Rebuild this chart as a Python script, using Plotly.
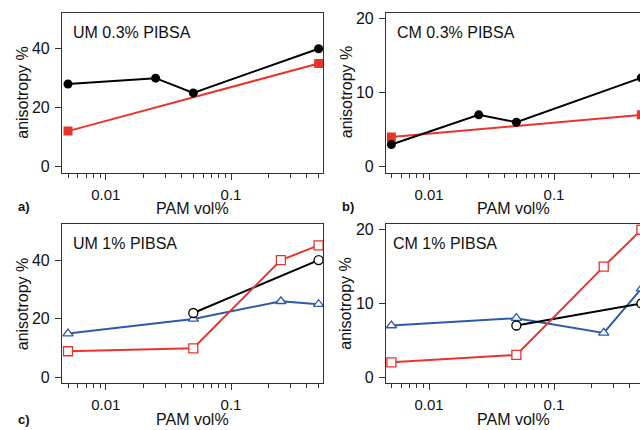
import plotly.graph_objects as go

# ---- data ----
pam_03 = [0.005, 0.025, 0.05, 0.5]
pam_03_red = [0.005, 0.5]
um03_black = [28, 30, 25, 40]
um03_red = [12, 35]
cm03_black = [3, 7, 6, 12]
cm03_red = [4, 7]

pam_1 = [0.005, 0.05, 0.25, 0.5]
pam_1_black = [0.05, 0.5]
um1_blue = [15, 20, 26, 25]
um1_red = [9, 10, 40, 45]
um1_black = [22, 40]
cm1_blue = [7, 8, 6, 12]
cm1_red = [2, 3, 15, 20]
cm1_black = [7, 10]

panel_titles = ["UM 0.3% PIBSA", "CM 0.3% PIBSA", "UM 1% PIBSA", "CM 1% PIBSA"]
panel_labels = ["a)", "b)", "c)"]
major_x = [0.01, 0.1]
major_x_text = ["0.01", "0.1"]
minor_x = [0.005, 0.006, 0.007, 0.008, 0.009,
           0.02, 0.03, 0.04, 0.05, 0.06, 0.07, 0.08, 0.09,
           0.2, 0.3, 0.4, 0.5]

RED = "#e8352b"
BLUE = "#2e5aaa"
BLACK = "#000000"
W, H = 640, 430
FONT = "Liberation Sans, Arial, sans-serif"

fig = go.Figure()

def px(x):
    return x / W

def py(y):
    return 1 - y / H

# domains (pixel geometry)
dom = {
    1: dict(x=[px(62), px(323)], y=[py(172), py(10)]),
    2: dict(x=[px(386), 1.0], y=[py(172), py(10)]),
    3: dict(x=[px(62), px(323)], y=[py(385.7), py(224.3)]),
    4: dict(x=[px(386), 1.0], y=[py(385.7), py(224.3)]),
}
xr = {1: [-2.349, -0.266], 2: [-2.344, -0.312], 3: [-2.349, -0.266], 4: [-2.344, -0.312]}
yr = {1: [-2.1, 52.2], 2: [-0.8, 20.76], 3: [-1.9, 52.2], 4: [-0.85, 20.76]}
ydt = {1: 20, 2: 10, 3: 20, 4: 10}


def add(i, x, y, color, symbol, filled, size):
    ax = "" if i == 1 else str(i)
    fig.add_trace(go.Scatter(
        x=x, y=y, mode="lines+markers",
        line=dict(color=color, width=2),
        marker=dict(symbol=symbol, size=size,
                    color=color if filled else "white",
                    line=dict(color=color, width=0 if filled else 1.3)),
        xaxis="x" + ax, yaxis="y" + ax, showlegend=False,
        cliponaxis=True))

# panel a
add(1, pam_03_red, um03_red, RED, "square", True, 9)
add(1, pam_03, um03_black, BLACK, "circle", True, 9)
# panel b
add(2, pam_03_red, cm03_red, RED, "square", True, 9)
add(2, pam_03, cm03_black, BLACK, "circle", True, 9)
# panel c
add(3, pam_1, um1_blue, BLUE, "triangle-up", False, 9)
add(3, pam_1_black, um1_black, BLACK, "circle", False, 9)
add(3, pam_1, um1_red, RED, "square", False, 9)
# panel d
add(4, pam_1, cm1_blue, BLUE, "triangle-up", False, 9)
add(4, pam_1_black, cm1_black, BLACK, "circle", False, 9)
add(4, pam_1, cm1_red, RED, "square", False, 9)

layout = dict(
    width=W, height=H,
    margin=dict(l=0, r=0, t=0, b=0, pad=0),
    paper_bgcolor="white", plot_bgcolor="white",
    font=dict(family=FONT, size=16, color="#111"),
    showlegend=False,
)
for i in range(1, 5):
    ax = "" if i == 1 else str(i)
    layout["xaxis" + ax] = dict(
        type="log", domain=dom[i]["x"], range=xr[i],
        anchor="y" + ax,
        tickmode="array", tickvals=major_x, ticktext=major_x_text,
        ticks="outside", ticklen=6, tickwidth=1, tickcolor="#333",
        minor=dict(tickmode="array", tickvals=minor_x, ticks="outside",
                   ticklen=4, tickwidth=1, tickcolor="#333", showgrid=False),
        showline=True, linecolor="#333", linewidth=1.2, mirror=True,
        showgrid=False, zeroline=False,
        tickfont=dict(size=15, family=FONT, color="#111"),
        ticklabelstandoff=2,
    )
    layout["yaxis" + ax] = dict(
        domain=dom[i]["y"], range=yr[i], anchor="x" + ax,
        tickmode="linear", tick0=0, dtick=ydt[i],
        ticks="outside", ticklen=6, tickwidth=1, tickcolor="#333",
        showline=True, linecolor="#333", linewidth=1.2,
        mirror=(i in (1, 3)),
        showgrid=False, zeroline=False,
        tickfont=dict(size=16, family=FONT, color="#111"),
        ticklabelstandoff=2,
    )
fig.update_layout(**layout)

ann = []
title_pos = [(71, 30), (395, 30), (71, 244), (391, 244)]
for t, (x, y) in zip(panel_titles, title_pos):
    ann.append(dict(text=t, x=px(x), y=py(y), xref="paper", yref="paper",
                    xanchor="left", yanchor="middle", showarrow=False,
                    font=dict(size=16, family=FONT, color="#111")))
# axis titles
for (cx, cy) in [(192.5, 208), (513, 208), (192.5, 422), (513, 422)]:
    ann.append(dict(text="PAM vol%", x=px(cx), y=py(cy), xref="paper", yref="paper",
                    xanchor="center", yanchor="middle", showarrow=False,
                    font=dict(size=16, family=FONT, color="#111")))
for (cx, cy) in [(22.5, 90.5), (346, 90.5), (22.5, 305), (346, 305)]:
    ann.append(dict(text="anisotropy %", x=px(cx), y=py(cy), xref="paper", yref="paper",
                    xanchor="center", yanchor="middle", showarrow=False, textangle=-90,
                    font=dict(size=16, family=FONT, color="#111")))
for t, (x, y) in zip(panel_labels, [(16, 206), (340, 206), (16, 422)]):
    ann.append(dict(text="<b>" + t + "</b>", x=px(x), y=py(y), xref="paper", yref="paper",
                    xanchor="left", yanchor="middle", showarrow=False,
                    font=dict(size=13, family=FONT, color="#111")))
fig.update_layout(annotations=ann)

fig.write_html("out.html")
